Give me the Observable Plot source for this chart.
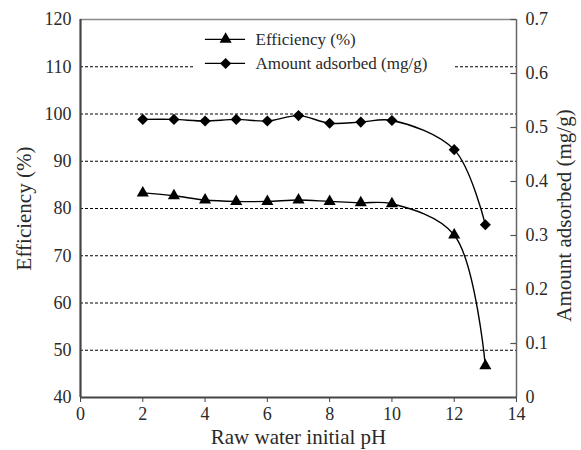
<!DOCTYPE html>
<html><head><meta charset="utf-8">
<script src="https://cdn.jsdelivr.net/npm/d3@7"></script>
<script src="https://cdn.jsdelivr.net/npm/@observablehq/plot@0.6"></script>
<style>body{margin:0;background:#fff} #chart{width:581px;height:450px}</style>
</head><body><div id="chart"></div>
<script>
const pH = [2,3,4,5,6,7,8,9,10,12,13];
const efficiency = [83.3,82.7,81.8,81.5,81.5,81.8,81.5,81.2,81.0,74.4,46.7];
const amount = [0.515,0.515,0.512,0.515,0.512,0.522,0.508,0.510,0.513,0.459,0.320];
const xTicks = [0,2,4,6,8,10,12,14];
const leftTicks = [40,50,60,70,80,90,100,110,120];
const rightTicks = [0,0.1,0.2,0.3,0.4,0.5,0.6,0.7];
const gridValues = [50,60,70,80,90,100,110];
const legendLabels = ["Efficiency (%)","Amount adsorbed (mg/g)"];
const xTitle = "Raw water initial pH";
const yLeftTitle = "Efficiency (%)";
const yRightTitle = "Amount adsorbed (mg/g)";

// right axis (0..0.7) mapped onto left scale (40..120)
const toLeft = v => 40 + v * 80 / 0.7;
const fromLeft = y => (y - 40) * 0.7 / 80;

const effData = pH.map((x,i)=>({x, y: efficiency[i]}));
const amtData = pH.map((x,i)=>({x, y: toLeft(amount[i])}));

const legend = [
  {label: legendLabels[0], y: 115.8},
  {label: legendLabels[1], y: 110.7}
];

const ink = "#2a2a2a";
const font = "'Liberation Serif', 'Times New Roman', serif";
const chart = Plot.plot({
  width: 581, height: 450,
  marginLeft: 80, marginRight: 65, marginTop: 19, marginBottom: 53,
  style: {fontFamily: font, fontSize: "18px", color: ink, background: "#fff"},
  x: {domain: [0,14]},
  y: {domain: [40,120]},
  marks: [
    Plot.ruleY(gridValues, {stroke: "#000", strokeWidth: 1, strokeDasharray: "3,2"}),
    // legend background
    Plot.rect([0], {x1: 3.69, x2: 11.98, y1: 108.3, y2: 118.7, fill: "#fff"}),
    Plot.ruleY(legend, {x1: 4.01, x2: 5.30, y: "y", stroke: "#000", strokeWidth: 1.3}),
    Plot.dot([legend[0]], {x: 4.66, y: "y", symbol: "triangle", r: 4.5, fill: "#000", stroke: "none"}),
    Plot.dot([legend[1]], {x: 4.66, y: "y", symbol: "diamond2", r: 5, fill: "#000", stroke: "none"}),
    Plot.text(legend, {x: 5.62, y: "y", text: "label", textAnchor: "start", fontSize: 17, fill: ink}),
    // frame
    Plot.ruleY([120], {stroke: "#8a8a8a", strokeWidth: 1.5}),
    Plot.ruleX([14], {stroke: "#666", strokeWidth: 1.5}),
    Plot.ruleX([0], {stroke: "#444", strokeWidth: 2.2}),
    Plot.ruleY([40], {stroke: "#444", strokeWidth: 2.2}),
    // right ticks inward
    Plot.ruleY(rightTicks.map(toLeft), {x1: 13.82, x2: 14, stroke: "#555", strokeWidth: 1.2}),
    Plot.axisX({ticks: xTicks, tickSize: 5, tickPadding: 5, fontSize: 18, stroke: "#444", label: null}),
    Plot.axisY({ticks: leftTicks, tickSize: 0, tickPadding: 9, fontSize: 18, label: null}),
    Plot.axisY({anchor: "right", ticks: rightTicks.map(toLeft), tickFormat: d => d3.format("~g")(+fromLeft(d).toFixed(2)),
      tickSize: 0, tickPadding: 9, fontSize: 18, label: null}),
    // axis titles
    Plot.text([xTitle], {frameAnchor: "bottom", dy: 40, lineAnchor: "middle", textAnchor: "middle", fontSize: 21, fill: ink}),
    Plot.text([yLeftTitle], {frameAnchor: "left", dx: -56, rotate: -90, lineAnchor: "middle", textAnchor: "middle", fontSize: 21, fill: ink}),
    Plot.text([yRightTitle], {frameAnchor: "right", dx: 48, dy: 7, rotate: -90, lineAnchor: "middle", textAnchor: "middle", fontSize: 21, fill: ink}),
    // data
    Plot.line(effData, {x: "x", y: "y", curve: "catmull-rom", stroke: "#000", strokeWidth: 1.4}),
    Plot.line(amtData, {x: "x", y: "y", curve: "catmull-rom", stroke: "#000", strokeWidth: 1.4}),
    Plot.dot(effData, {x: "x", y: "y", symbol: "triangle", r: 4.5, fill: "#000", stroke: "none"}),
    Plot.dot(amtData, {x: "x", y: "y", symbol: "diamond2", r: 5, fill: "#000", stroke: "none"})
  ]
});
document.getElementById("chart").appendChild(chart);
</script></body></html>
